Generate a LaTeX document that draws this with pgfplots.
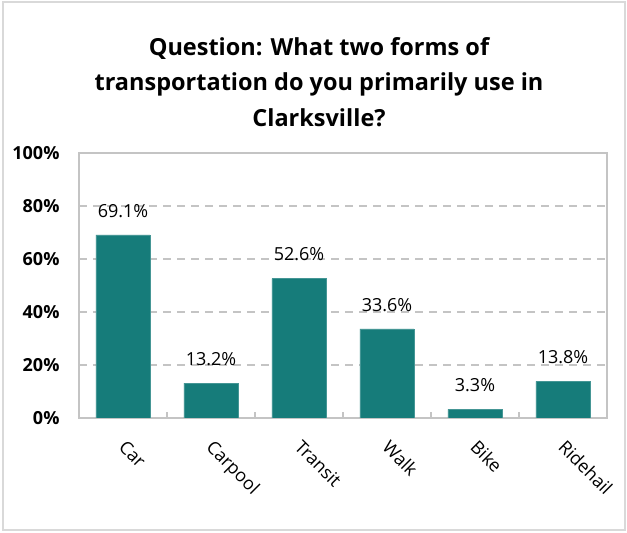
\documentclass[border=0pt]{standalone}
\usepackage{pgfplots}
\pgfplotsset{compat=1.18}
\usepackage{fontspec}
\setmainfont{Open Sans}
\definecolor{barteal}{HTML}{167C7A}
\definecolor{gridgray}{HTML}{C4C4C4}
\definecolor{framegray}{HTML}{D9D9D9}
\begin{document}
\begin{tikzpicture}[x=1pt,y=1pt]
\path (0,0) rectangle (627,533);
\draw[framegray, line width=1.2pt] (3,3) rectangle (625,531);
\node[font=\fontsize{23.5}{35.5}\selectfont\bfseries, align=center] at (319,451)
  {Question: What two forms of\\transportation do you primarily use in\\Clarksville?};
\begin{axis}[
  at={(79pt,115pt)}, anchor=south west,
  scale only axis, width=528pt, height=265pt,
  xmin=-0.5, xmax=5.5, ymin=0, ymax=100,
  ybar, bar width=54pt,
  xtick={0,1,2,3,4,5},
  xticklabels={Car,Carpool,Transit,Walk,Bike,Ridehail},
  major x tick style={draw=none},
  minor xtick={0.5,1.5,2.5,3.5,4.5},
  minor tick length=6pt,
  minor x tick style={gridgray, line width=1.2pt},
  tick align=inside,
  xtick pos=bottom,
  ytick={0,20,40,60,80,100},
  yticklabel={\pgfmathprintnumber{\tick}\%},
  /pgf/number format/assume math mode=true,
  major y tick style={draw=none},
  ymajorgrids,
  grid style={gridgray, line width=1.2pt, dash pattern=on 8pt off 6pt},
  axis line style={gridgray, line width=1.2pt},
  yticklabel style={font=\fontsize{18}{20}\selectfont\bfseries, xshift=-16pt},
  xticklabel style={font=\fontsize{18}{20}\selectfont, xshift=4pt, yshift=-16pt, rotate=-45, anchor=north west},
  nodes near coords={\pgfmathprintnumber[fixed, fixed zerofill, precision=1]{\pgfplotspointmeta}\%},
  nodes near coords style={font=\fontsize{18}{20}\selectfont, yshift=14pt, text=black},
]
\addplot[fill=barteal, draw=barteal!80!white] coordinates {
  (0,69.1) (1,13.2) (2,52.6) (3,33.6) (4,3.3) (5,13.8)};
\end{axis}
\end{tikzpicture}
\end{document}
